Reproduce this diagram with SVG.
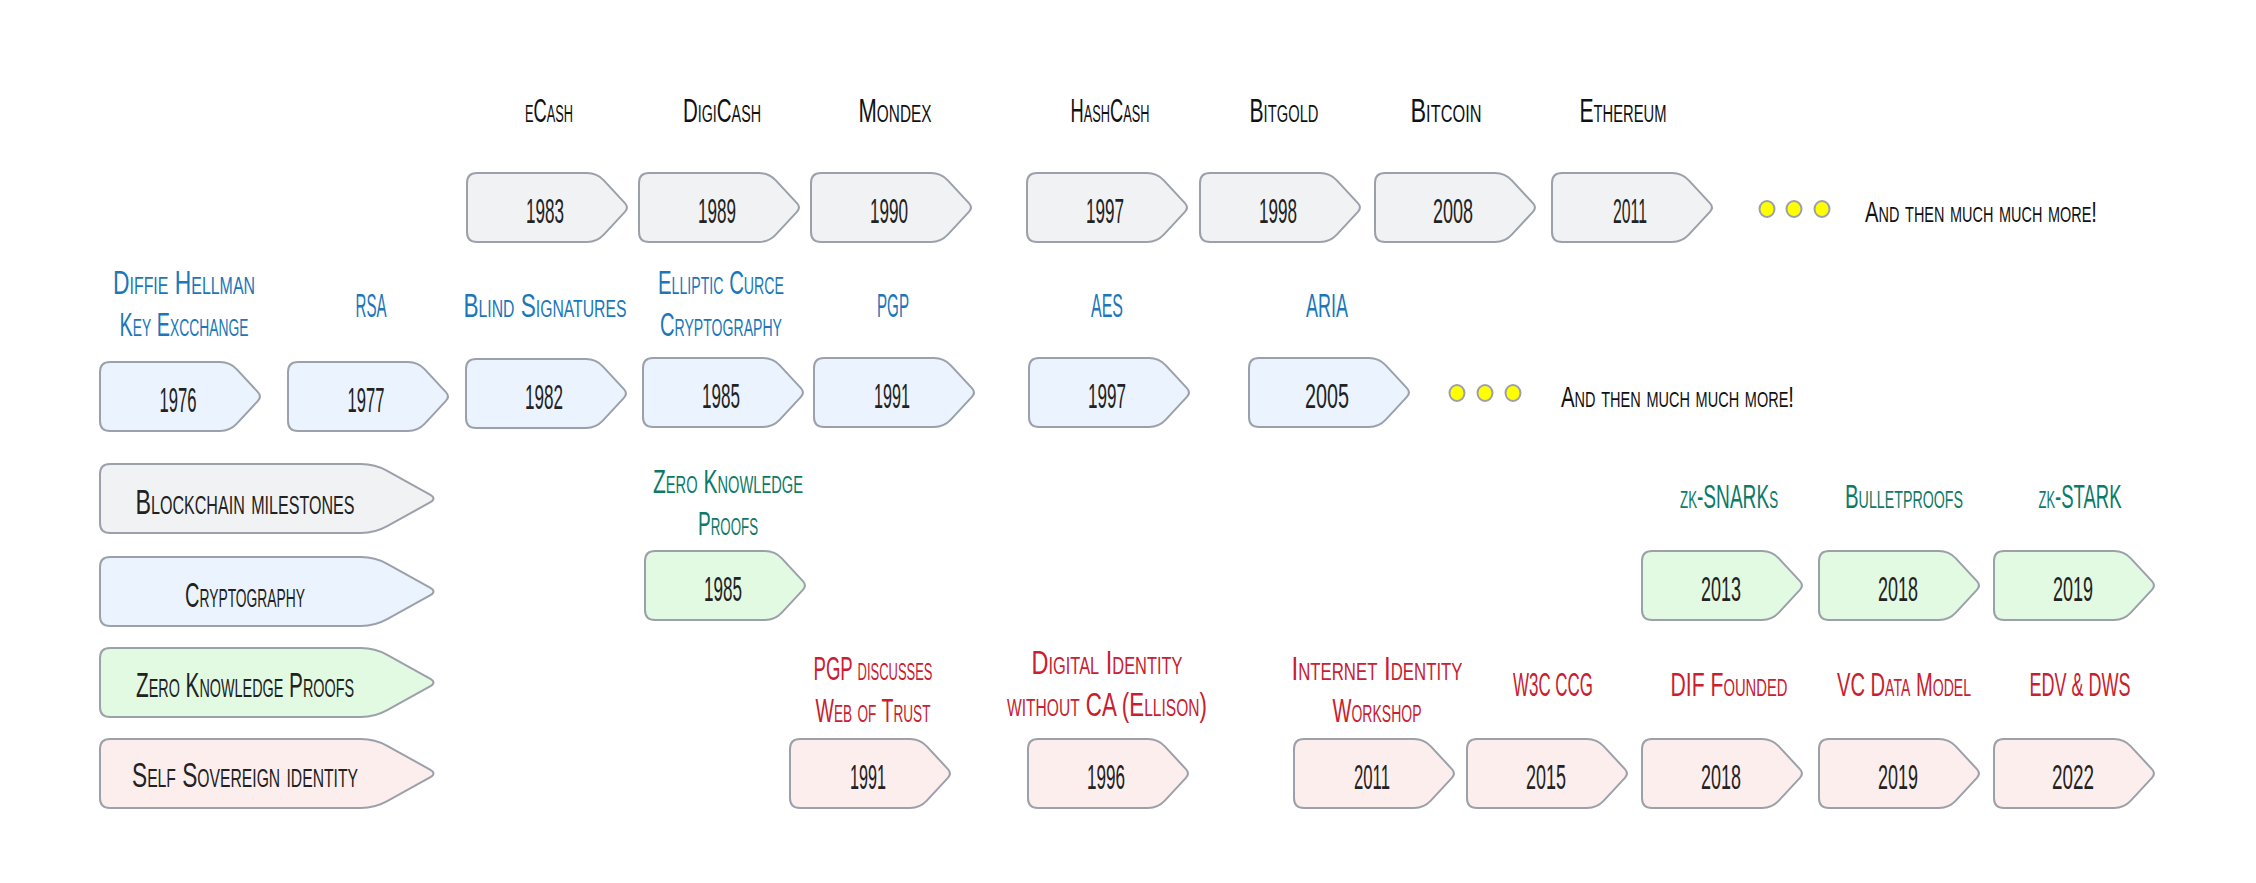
<svg xmlns="http://www.w3.org/2000/svg" width="2256" height="883" viewBox="0 0 2256 883">
<style>
text{font-family:"Liberation Sans","DejaVu Sans",sans-serif;font-variant:small-caps;text-anchor:middle;}
.yr{font-size:36px;fill:#222;}
.lb{font-size:34px;}
.lg{font-size:36px;fill:#222;}
.more{font-size:30px;fill:#111;text-anchor:start;}
.k{fill:#111;}
.b{fill:#1b77b9;}
.t{fill:#0d7a68;}
.r{fill:#c9202f;}
.box{stroke:#9ba0aa;stroke-width:2;}
.blk{fill:#f1f2f4;}
.cry{fill:#ebf4fe;}
.zk{fill:#e2f9e2;}
.ssi{fill:#fdeeee;}
.dot{fill:#ffff00;stroke:#9ba0aa;stroke-width:2;}
</style>
<defs>
<path id="sb" d="M10,0 L120,0 Q130,0 136.8,7.33 L157.9,30.1 Q162,34.5 157.9,38.9 L136.8,61.67 Q130,69 120,69 L10,69 Q0,69 0,59 L0,10 Q0,0 10,0 Z"/>
<path id="lgb" d="M10,0 L261,0 Q275,0 287.2,6.8 L330,30.6 Q337,34.5 330,38.4 L287.2,62.2 Q275,69 261,69 L10,69 Q0,69 0,59 L0,10 Q0,0 10,0 Z"/>
</defs>
<rect width="2256" height="883" fill="#ffffff"/>
<g id="connectors"></g>

<!-- Legend -->
<g id="legend-blockchain"><use href="#lgb" x="100" y="464" class="box blk"/><text class="lg" transform="translate(245,514) scale(0.65,1)" textLength="336.9" lengthAdjust="spacingAndGlyphs">Blockchain milestones</text></g>
<g id="legend-crypto"><use href="#lgb" x="100" y="557" class="box cry"/><text class="lg" transform="translate(245,607) scale(0.65,1)" textLength="184.6" lengthAdjust="spacingAndGlyphs">Cryptography</text></g>
<g id="legend-zk"><use href="#lgb" x="100" y="648" class="box zk"/><text class="lg" transform="translate(245,697) scale(0.65,1)" textLength="335.4" lengthAdjust="spacingAndGlyphs">Zero Knowledge Proofs</text></g>
<g id="legend-ssi"><use href="#lgb" x="100" y="739" class="box ssi"/><text class="lg" transform="translate(245,787) scale(0.65,1)" textLength="347.7" lengthAdjust="spacingAndGlyphs">Self Sovereign identity</text></g>

<!-- Blockchain row -->
<g id="bc-1983"><text class="lb k" transform="translate(549,122) scale(0.65,1)" textLength="73.8" lengthAdjust="spacingAndGlyphs">eCash</text><use href="#sb" x="467" y="173" class="box blk"/><text class="yr" transform="translate(545,223) scale(0.5,1)" textLength="76" lengthAdjust="spacingAndGlyphs">1983</text></g>
<g id="bc-1989"><text class="lb k" transform="translate(722,122) scale(0.65,1)" textLength="120" lengthAdjust="spacingAndGlyphs">DigiCash</text><use href="#sb" x="639" y="173" class="box blk"/><text class="yr" transform="translate(717,223) scale(0.5,1)" textLength="76" lengthAdjust="spacingAndGlyphs">1989</text></g>
<g id="bc-1990"><text class="lb k" transform="translate(895,122) scale(0.65,1)" textLength="112.3" lengthAdjust="spacingAndGlyphs">Mondex</text><use href="#sb" x="811" y="173" class="box blk"/><text class="yr" transform="translate(889,223) scale(0.5,1)" textLength="76" lengthAdjust="spacingAndGlyphs">1990</text></g>
<g id="bc-1997"><text class="lb k" transform="translate(1110,122) scale(0.65,1)" textLength="121.5" lengthAdjust="spacingAndGlyphs">HashCash</text><use href="#sb" x="1027" y="173" class="box blk"/><text class="yr" transform="translate(1105,223) scale(0.5,1)" textLength="76" lengthAdjust="spacingAndGlyphs">1997</text></g>
<g id="bc-1998"><text class="lb k" transform="translate(1284,122) scale(0.65,1)" textLength="106.2" lengthAdjust="spacingAndGlyphs">Bitgold</text><use href="#sb" x="1200" y="173" class="box blk"/><text class="yr" transform="translate(1278,223) scale(0.5,1)" textLength="76" lengthAdjust="spacingAndGlyphs">1998</text></g>
<g id="bc-2008"><text class="lb k" transform="translate(1446,122) scale(0.65,1)" textLength="109.2" lengthAdjust="spacingAndGlyphs">Bitcoin</text><use href="#sb" x="1375" y="173" class="box blk"/><text class="yr" transform="translate(1453,223) scale(0.5,1)" textLength="80" lengthAdjust="spacingAndGlyphs">2008</text></g>
<g id="bc-2011"><text class="lb k" transform="translate(1623,122) scale(0.65,1)" textLength="133.8" lengthAdjust="spacingAndGlyphs">Ethereum</text><use href="#sb" x="1552" y="173" class="box blk"/><text class="yr" transform="translate(1630,223) scale(0.5,1)" textLength="68" lengthAdjust="spacingAndGlyphs">2011</text></g>
<g id="bc-more"><ellipse class="dot" cx="1767" cy="209" rx="7.5" ry="8"/><ellipse class="dot" cx="1794" cy="209" rx="7.5" ry="8"/><ellipse class="dot" cx="1822" cy="209" rx="7.5" ry="8"/><text class="more" transform="translate(1865,222) scale(0.65,1)" textLength="356.9" lengthAdjust="spacingAndGlyphs">And then much much more!</text></g>

<!-- Cryptography row -->
<g id="cr-1976"><text class="lb b" transform="translate(184,294) scale(0.65,1)" textLength="218.5" lengthAdjust="spacingAndGlyphs">Diffie Hellman</text><text class="lb b" transform="translate(184,336) scale(0.65,1)" textLength="198.5" lengthAdjust="spacingAndGlyphs">Key Excchange</text><use href="#sb" x="100" y="362" class="box cry"/><text class="yr" transform="translate(178,412) scale(0.5,1)" textLength="74" lengthAdjust="spacingAndGlyphs">1976</text></g>
<g id="cr-1977"><text class="lb b" transform="translate(371,317) scale(0.65,1)" textLength="47.7" lengthAdjust="spacingAndGlyphs">RSA</text><use href="#sb" x="288" y="362" class="box cry"/><text class="yr" transform="translate(366,412) scale(0.5,1)" textLength="74" lengthAdjust="spacingAndGlyphs">1977</text></g>
<g id="cr-1982"><text class="lb b" transform="translate(545,317) scale(0.65,1)" textLength="250.8" lengthAdjust="spacingAndGlyphs">Blind Signatures</text><use href="#sb" x="466" y="359" class="box cry"/><text class="yr" transform="translate(544,409) scale(0.5,1)" textLength="76" lengthAdjust="spacingAndGlyphs">1982</text></g>
<g id="cr-1985"><text class="lb b" transform="translate(721,294) scale(0.65,1)" textLength="193.8" lengthAdjust="spacingAndGlyphs">Elliptic Curce</text><text class="lb b" transform="translate(721,336) scale(0.65,1)" textLength="187.7" lengthAdjust="spacingAndGlyphs">Cryptography</text><use href="#sb" x="643" y="358" class="box cry"/><text class="yr" transform="translate(721,408) scale(0.5,1)" textLength="76" lengthAdjust="spacingAndGlyphs">1985</text></g>
<g id="cr-1991"><text class="lb b" transform="translate(893,317) scale(0.65,1)" textLength="49.2" lengthAdjust="spacingAndGlyphs">PGP</text><use href="#sb" x="814" y="358" class="box cry"/><text class="yr" transform="translate(892,408) scale(0.5,1)" textLength="72" lengthAdjust="spacingAndGlyphs">1991</text></g>
<g id="cr-1997"><text class="lb b" transform="translate(1107,317) scale(0.65,1)" textLength="49.2" lengthAdjust="spacingAndGlyphs">AES</text><use href="#sb" x="1029" y="358" class="box cry"/><text class="yr" transform="translate(1107,408) scale(0.5,1)" textLength="76" lengthAdjust="spacingAndGlyphs">1997</text></g>
<g id="cr-2005"><text class="lb b" transform="translate(1327,317) scale(0.65,1)" textLength="64.6" lengthAdjust="spacingAndGlyphs">ARIA</text><use href="#sb" x="1249" y="358" class="box cry"/><text class="yr" transform="translate(1327,408) scale(0.5,1)" textLength="88" lengthAdjust="spacingAndGlyphs">2005</text></g>
<g id="cr-more"><ellipse class="dot" cx="1457" cy="393" rx="7.5" ry="8"/><ellipse class="dot" cx="1485" cy="393" rx="7.5" ry="8"/><ellipse class="dot" cx="1513" cy="393" rx="7.5" ry="8"/><text class="more" transform="translate(1561,407) scale(0.65,1)" textLength="358.5" lengthAdjust="spacingAndGlyphs">And then much much more!</text></g>

<!-- Zero Knowledge row -->
<g id="zk-1985"><text class="lb t" transform="translate(728,493) scale(0.65,1)" textLength="230.8" lengthAdjust="spacingAndGlyphs">Zero Knowledge</text><text class="lb t" transform="translate(728,535) scale(0.65,1)" textLength="92.3" lengthAdjust="spacingAndGlyphs">Proofs</text><use href="#sb" x="645" y="551" class="box zk"/><text class="yr" transform="translate(723,601) scale(0.5,1)" textLength="76" lengthAdjust="spacingAndGlyphs">1985</text></g>
<g id="zk-2013"><text class="lb t" transform="translate(1729,508) scale(0.65,1)" textLength="150.8" lengthAdjust="spacingAndGlyphs">zk-SNARKs</text><use href="#sb" x="1642" y="551" class="box zk"/><text class="yr" transform="translate(1721,601) scale(0.5,1)" textLength="80" lengthAdjust="spacingAndGlyphs">2013</text></g>
<g id="zk-2018"><text class="lb t" transform="translate(1904,508) scale(0.65,1)" textLength="181.5" lengthAdjust="spacingAndGlyphs">Bulletproofs</text><use href="#sb" x="1819" y="551" class="box zk"/><text class="yr" transform="translate(1898,601) scale(0.5,1)" textLength="80" lengthAdjust="spacingAndGlyphs">2018</text></g>
<g id="zk-2019"><text class="lb t" transform="translate(2080,508) scale(0.65,1)" textLength="127.7" lengthAdjust="spacingAndGlyphs">zk-STARK</text><use href="#sb" x="1994" y="551" class="box zk"/><text class="yr" transform="translate(2073,601) scale(0.5,1)" textLength="80" lengthAdjust="spacingAndGlyphs">2019</text></g>

<!-- Self Sovereign Identity row -->
<g id="ssi-1991"><text class="lb r" transform="translate(873,680) scale(0.65,1)" textLength="183.1" lengthAdjust="spacingAndGlyphs">PGP discusses</text><text class="lb r" transform="translate(873,722) scale(0.65,1)" textLength="176.9" lengthAdjust="spacingAndGlyphs">Web of Trust</text><use href="#sb" x="790" y="739" class="box ssi"/><text class="yr" transform="translate(868,789) scale(0.5,1)" textLength="72" lengthAdjust="spacingAndGlyphs">1991</text></g>
<g id="ssi-1996"><text class="lb r" transform="translate(1107,674) scale(0.65,1)" textLength="232.3" lengthAdjust="spacingAndGlyphs">Digital Identity</text><text class="lb r" transform="translate(1107,716) scale(0.65,1)" textLength="307.7" lengthAdjust="spacingAndGlyphs">without CA (Ellison)</text><use href="#sb" x="1028" y="739" class="box ssi"/><text class="yr" transform="translate(1106,789) scale(0.5,1)" textLength="76" lengthAdjust="spacingAndGlyphs">1996</text></g>
<g id="ssi-2011"><text class="lb r" transform="translate(1377,680) scale(0.65,1)" textLength="263.1" lengthAdjust="spacingAndGlyphs">Internet Identity</text><text class="lb r" transform="translate(1377,722) scale(0.65,1)" textLength="136.9" lengthAdjust="spacingAndGlyphs">Workshop</text><use href="#sb" x="1294" y="739" class="box ssi"/><text class="yr" transform="translate(1372,789) scale(0.5,1)" textLength="72" lengthAdjust="spacingAndGlyphs">2011</text></g>
<g id="ssi-2015"><text class="lb r" transform="translate(1553,696) scale(0.65,1)" textLength="123.1" lengthAdjust="spacingAndGlyphs">W3C CCG</text><use href="#sb" x="1467" y="739" class="box ssi"/><text class="yr" transform="translate(1546,789) scale(0.5,1)" textLength="80" lengthAdjust="spacingAndGlyphs">2015</text></g>
<g id="ssi-2018"><text class="lb r" transform="translate(1729,696) scale(0.65,1)" textLength="180" lengthAdjust="spacingAndGlyphs">DIF Founded</text><use href="#sb" x="1642" y="739" class="box ssi"/><text class="yr" transform="translate(1721,789) scale(0.5,1)" textLength="80" lengthAdjust="spacingAndGlyphs">2018</text></g>
<g id="ssi-2019"><text class="lb r" transform="translate(1904,696) scale(0.65,1)" textLength="206.2" lengthAdjust="spacingAndGlyphs">VC Data Model</text><use href="#sb" x="1819" y="739" class="box ssi"/><text class="yr" transform="translate(1898,789) scale(0.5,1)" textLength="80" lengthAdjust="spacingAndGlyphs">2019</text></g>
<g id="ssi-2022"><text class="lb r" transform="translate(2080,696) scale(0.65,1)" textLength="155.4" lengthAdjust="spacingAndGlyphs">EDV &amp; DWS</text><use href="#sb" x="1994" y="739" class="box ssi"/><text class="yr" transform="translate(2073,789) scale(0.5,1)" textLength="84" lengthAdjust="spacingAndGlyphs">2022</text></g>
</svg>
